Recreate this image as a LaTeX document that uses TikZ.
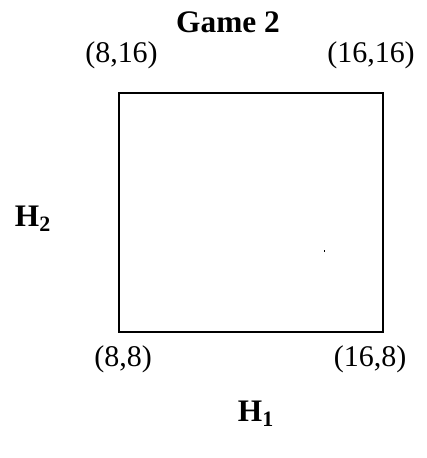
\documentclass[tikz,border=0pt]{standalone}
\usepackage{fontspec}
\setmainfont{Liberation Serif}
\tikzset{
  lbl/.style={inner sep=0pt, font=\fontsize{22.5}{27}\selectfont},
  ttl/.style={inner sep=0pt, font=\fontsize{23.5}{28}\selectfont\bfseries},
}
\begin{document}
\begin{tikzpicture}[x=0.75pt,y=-0.75pt]
\useasboundingbox (0,0) rectangle (427,458);
\node[ttl] (title) at (228,22) {Game 2};
\node[lbl] (tl) at (121.5,55) {(8,16)};
\node[lbl] (tr) at (371,55) {(16,16)};
\node[lbl] (bl) at (123,359) {(8,8)};
\node[lbl] (br) at (370,359) {(16,8)};
\node[ttl] (h2) at (33,219) {H\textsubscript{2}};
\node[ttl] (h1) at (256,414) {H\textsubscript{1}};
\draw[line width=1.5pt] (119,93) rectangle (383,332);
\fill (323.5,250) rectangle (325,252);
\end{tikzpicture}
\end{document}
